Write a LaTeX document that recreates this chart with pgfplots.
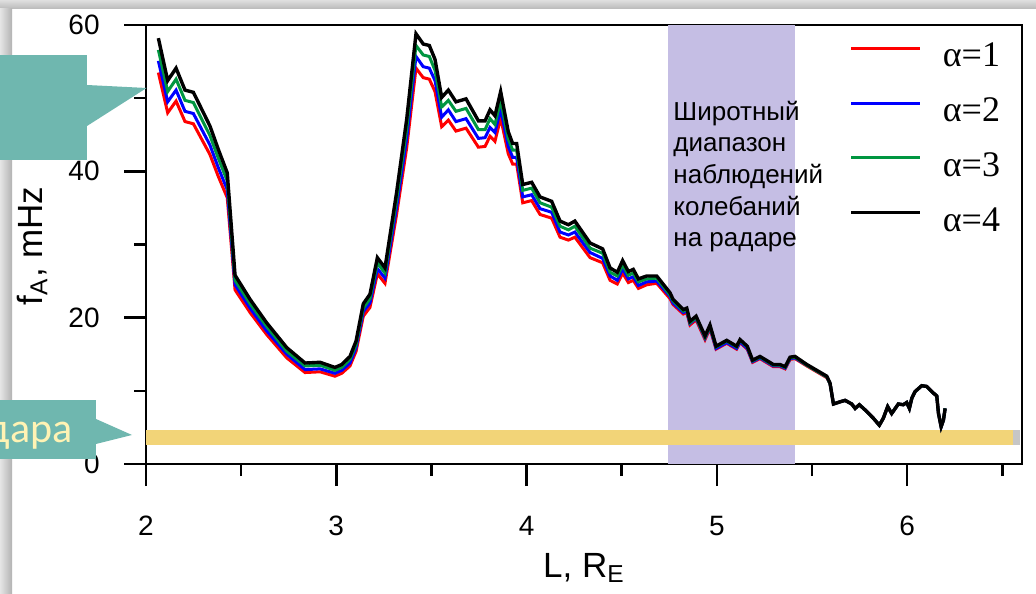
\documentclass[border=0pt]{standalone}
\usepackage{fontspec}
\setmainfont{Liberation Sans}
\newfontfamily\timesfont{Liberation Serif}
\newfontfamily\calfont{Carlito}
\usepackage{pgfplots}
\usepackage{pgfplotstable}
\pgfplotsset{compat=1.18}

\definecolor{bandcol}{RGB}{197,190,228}
\definecolor{barcol}{RGB}{242,212,120}
\definecolor{callout}{RGB}{111,183,175}
\definecolor{lyel}{RGB}{255,243,180}
\definecolor{grn}{RGB}{0,150,64}

% L, then f_A for alpha = 1..4 (mHz)
\pgfplotstableread{
L a1 a2 a3 a4
2.065 53.5 55.1 56.6 58.2
2.114 48.0 49.5 50.9 52.4
2.158 49.6 51.1 52.6 54.1
2.205 46.8 48.2 49.7 51.1
2.249 46.5 47.9 49.4 50.8
2.336 42.3 43.6 44.9 46.2
2.380 39.3 40.5 41.8 43.0
2.427 36.4 37.5 38.7 39.8
2.468 23.8 24.5 25.1 25.8
2.547 20.7 21.3 21.9 22.5
2.634 17.7 18.2 18.8 19.3
2.740 14.5 15.0 15.4 15.9
2.836 12.5 12.9 13.4 13.8
2.915 12.6 13.0 13.5 13.9
2.993 12.0 12.4 12.8 13.2
3.029 12.4 12.8 13.2 13.6
3.072 13.4 13.8 14.3 14.7
3.104 15.4 15.9 16.3 16.8
3.142 20.2 20.8 21.3 21.9
3.177 21.4 22.0 22.6 23.2
3.216 26.0 26.7 27.5 28.2
3.256 24.7 25.4 26.1 26.8
3.317 34.1 35.1 36.1 37.1
3.370 43.2 44.5 45.8 47.1
3.419 54.1 55.7 57.2 58.8
3.457 52.8 54.3 55.9 57.4
3.489 52.6 54.1 55.7 57.2
3.519 50.9 52.4 53.8 55.3
3.554 46.1 47.4 48.8 50.1
3.589 47.0 48.4 49.7 51.1
3.629 45.5 46.8 48.2 49.5
3.682 45.9 47.2 48.6 49.9
3.747 43.3 44.5 45.7 46.9
3.782 43.4 44.6 45.7 46.9
3.808 44.8 46.0 47.2 48.4
3.834 44.1 45.3 46.4 47.6
3.864 47.3 48.5 49.7 50.9
3.904 42.4 43.4 44.4 45.4
3.927 41.0 41.9 42.9 43.8
3.948 41.0 41.9 42.9 43.8
3.980 35.7 36.5 37.4 38.2
4.027 36.0 36.8 37.7 38.5
4.071 34.1 34.9 35.7 36.5
4.132 33.6 34.4 35.1 35.9
4.176 31.0 31.7 32.5 33.2
4.220 30.6 31.3 32.0 32.7
4.254 31.0 31.7 32.5 33.2
4.334 28.2 28.9 29.5 30.2
4.400 27.5 28.1 28.8 29.4
4.439 25.1 25.7 26.2 26.8
4.477 24.6 25.1 25.7 26.2
4.505 26.1 26.7 27.2 27.8
4.535 24.8 25.3 25.8 26.3
4.561 25.1 25.6 26.1 26.6
4.588 24.0 24.4 24.9 25.3
4.632 24.5 24.9 25.3 25.7
4.684 24.7 25.0 25.4 25.7
4.754 22.6 22.9 23.1 23.4
4.770 21.8 22.0 22.3 22.5
4.824 20.5 20.7 20.9 21.1
4.842 20.7 20.9 21.1 21.3
4.859 19.0 19.2 19.3 19.5
4.891 19.7 19.9 20.0 20.2
4.938 17.0 17.2 17.3 17.5
4.964 18.5 18.7 18.8 19.0
4.996 15.7 15.8 16.0 16.1
5.052 16.5 16.6 16.8 16.9
5.104 15.7 15.8 16.0 16.1
5.122 16.6 16.7 16.9 17.0
5.160 15.7 15.8 16.0 16.1
5.188 13.9 14.0 14.1 14.2
5.227 14.4 14.5 14.6 14.7
5.297 13.3 13.4 13.5 13.6
5.332 13.3 13.4 13.5 13.6
5.359 13.0 13.1 13.2 13.3
5.385 14.3 14.4 14.5 14.6
5.411 14.4 14.5 14.6 14.7
5.473 13.4 13.5 13.5 13.6
5.578 11.8 11.9 11.9 12.0
5.595 11.0 11.0 11.0 11.05
5.613 8.2 8.2 8.2 8.2
5.648 8.5 8.5 8.5 8.5
5.674 8.7 8.7 8.7 8.7
5.709 8.2 8.2 8.2 8.2
5.727 7.6 7.6 7.6 7.6
5.749 8.1 8.1 8.1 8.1
5.779 7.4 7.4 7.4 7.4
5.823 6.25 6.25 6.25 6.25
5.854 5.3 5.3 5.3 5.3
5.875 6.25 6.25 6.25 6.25
5.898 7.85 7.85 7.85 7.85
5.919 6.9 6.9 6.9 6.9
5.954 8.2 8.2 8.2 8.2
5.980 8.1 8.1 8.1 8.1
5.998 8.4 8.4 8.4 8.4
6.012 7.6 7.6 7.6 7.6
6.025 9.0 9.0 9.0 9.0
6.042 9.9 9.9 9.9 9.9
6.077 10.7 10.7 10.7 10.7
6.103 10.6 10.6 10.6 10.6
6.138 9.7 9.7 9.7 9.7
6.156 9.3 9.3 9.3 9.3
6.165 6.9 6.9 6.9 6.9
6.179 5.1 5.1 5.1 5.1
6.191 6.0 6.0 6.0 6.0
6.200 7.6 7.6 7.6 7.6
}\alfven

\begin{document}
\begin{tikzpicture}
% slide background with shadow edges
\path[use as bounding box] (0,0) rectangle (518pt,296.5pt);
\fill[white] (0,0) rectangle (518pt,296.5pt);
\shade[top color=gray!25, bottom color=gray!55] (0,292pt) rectangle (518pt,296.5pt);
\shade[left color=gray!20, right color=gray!60] (0,0) rectangle (6pt,292pt);

\begin{axis}[
  at={(73pt,64.5pt)}, anchor=south west,
  scale only axis, width=438pt, height=219.5pt,
  xmin=2, xmax=6.604, ymin=0, ymax=60,
  xtick={2,3,4,5,6}, minor xtick={2.5,3.5,4.5,5.5,6.5},
  ytick={0,20,40,60}, minor ytick={10,30,50},
  tick align=outside, tick pos=left,
  major tick length=11pt, minor tick length=6pt,
  tick style={black, line width=1.3pt},
  axis line style={line width=1.3pt},
  /pgf/number format/assume math mode=true,
  tick label style={font=\fontsize{14}{14}\selectfont},
  yticklabel style={anchor=east, inner sep=0pt, xshift=-12pt},
  xticklabel style={anchor=base, inner sep=0pt, yshift=-24.5pt},
  xlabel={L, R\textsubscript{E}},
  ylabel={f\textsubscript{A}, mHz},
  label style={font=\fontsize{17.5}{17.5}\selectfont},
  xlabel style={at={(axis description cs:0.5,0)}, anchor=base, inner sep=0pt, yshift=-56.5pt},
  ylabel style={at={(axis description cs:-0.130,0.497)}, anchor=center, inner sep=0pt},
  legend style={draw=none, fill=none, at={(axis cs:5.695,57.6)}, anchor=north west,
    inner sep=0pt, row sep=14pt, column sep=10.5pt,
    nodes={inner sep=0pt}, font=\timesfont\fontsize{18}{18}\selectfont},
  legend cell align=left,
  legend image code/.code={\draw[#1] (0pt,4pt) -- (34.5pt,4pt);},
]
\fill[bandcol] (axis cs:4.742,0) rectangle (axis cs:5.411,60);
\fill[barcol] (axis cs:2,2.6) rectangle (axis cs:6.557,4.65);
\fill[gray!45] (axis cs:6.557,2.6) rectangle (axis cs:6.594,4.65);
\node[anchor=west, align=left, inner sep=0pt, font=\fontsize{13}{15.85}\selectfont]
  at (axis cs:4.77,39.3) {Широтный\\диапазон\\наблюдений\\колебаний\\на радаре};

\addplot[red, line width=1.5pt] table[x=L, y=a1] {\alfven};
\addplot[blue, line width=1.5pt] table[x=L, y=a2] {\alfven};
\addplot[grn, line width=1.5pt] table[x=L, y=a3] {\alfven};
\addplot[black, line width=1.7pt] table[x=L, y=a4] {\alfven};
\legend{α=1, α=2, α=3, α=4}
\end{axis}

% callouts cut by the slide edge
\fill[callout] (0,216.5pt) rectangle (43.5pt,269pt);
\fill[callout] (43.5pt,254pt) -- (73.3pt,252.5pt) -- (43.5pt,233.5pt) -- cycle;
\node[anchor=base east, inner sep=0pt, text=lyel, font=\calfont\fontsize{21}{21}\selectfont]
  at (1.8pt,246.5pt) {н};
\fill[callout] (0,67pt) rectangle (48pt,96.5pt);
\fill[callout] (48pt,87pt) -- (66pt,79pt) -- (48pt,74.5pt) -- cycle;
\node[anchor=base east, inner sep=0pt, text=lyel, font=\calfont\fontsize{21}{21}\selectfont]
  at (36.5pt,75pt) {радара};
\end{tikzpicture}
\end{document}
